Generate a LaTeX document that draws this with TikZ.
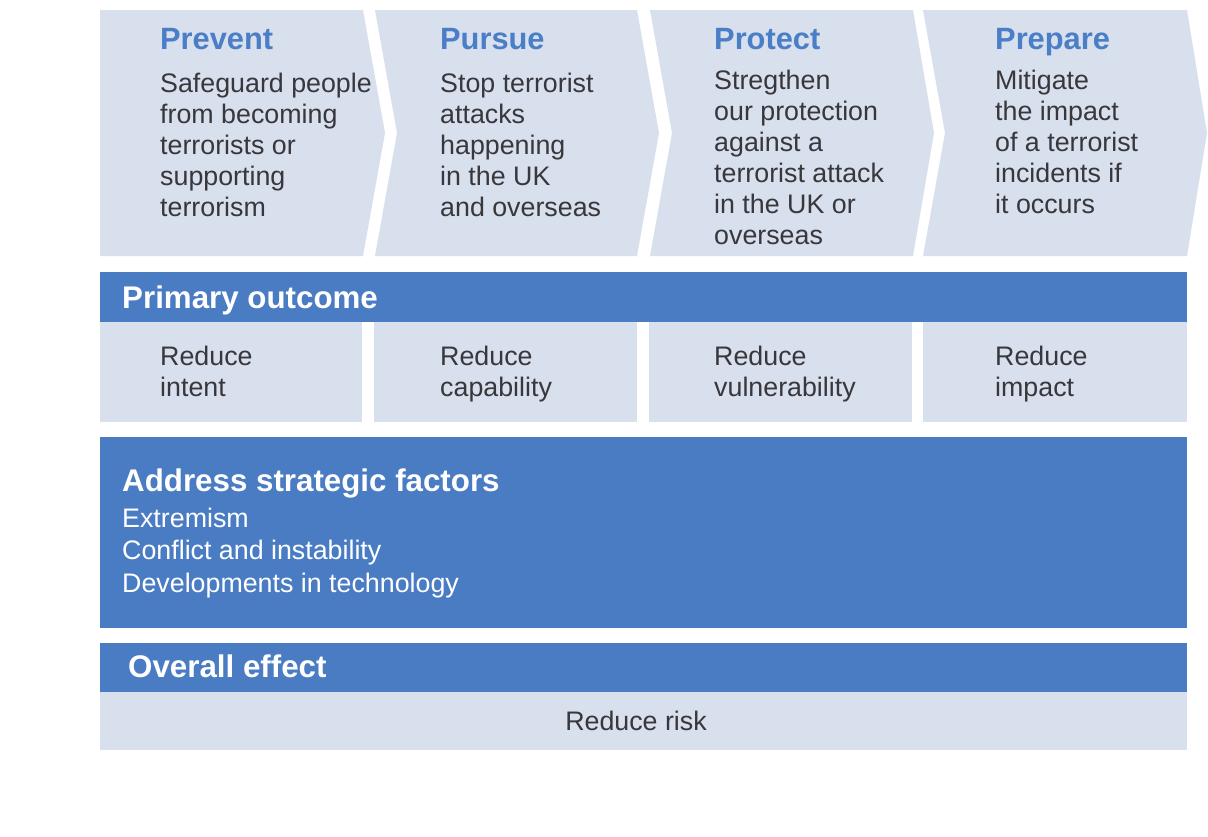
\documentclass[tikz,border=0pt]{standalone}
\usepackage{fontspec}
\setmainfont{Liberation Sans}
\definecolor{lightbg}{RGB}{216,223,237}
\definecolor{darkblue}{RGB}{74,124,195}
\definecolor{titleblue}{RGB}{74,126,198}
\definecolor{bodytext}{RGB}{55,55,60}
\tikzset{
  panel/.style={fill=lightbg, draw=none},
  bar/.style={fill=darkblue, draw=none},
  ttl/.style={anchor=base west, inner sep=0pt, text=titleblue, font=\fontsize{30.8}{31}\selectfont\bfseries},
  body/.style={anchor=base west, inner sep=0pt, text=bodytext, align=left, font=\fontsize{26.8}{31}\selectfont},
  bartitle/.style={anchor=base west, inner sep=0pt, text=white, font=\fontsize{31.3}{31}\selectfont\bfseries},
  barbody/.style={anchor=base west, inner sep=0pt, text=white, align=left, font=\fontsize{26.8}{32.5}\selectfont},
}
\begin{document}
\begin{tikzpicture}[x=1pt,y=-1pt]
\useasboundingbox (0,0) rectangle (1208,836);
\fill[white] (0,0) rectangle (1208,836);
% chevrons
\fill[panel] (100,10) -- (363,10) -- (385,133) -- (363,256) -- (100,256) -- cycle;
\fill[panel] (375,10) -- (637,10) -- (659,133) -- (637,256) -- (375,256) -- (397,133) -- cycle;
\fill[panel] (650,10) -- (913,10) -- (934,133) -- (913,256) -- (650,256) -- (672,133) -- cycle;
\fill[panel] (923,10) -- (1187,10) -- (1207,133) -- (1187,256) -- (923,256) -- (945,133) -- cycle;
% titles (multi-line nodes are placed by the baseline of their last line)
\node[ttl] (t1) at (160,49) {Prevent};
\node[ttl] (t2) at (440,49) {Pursue};
\node[ttl] (t3) at (714,49) {Protect};
\node[ttl] (t4) at (995,49) {Prepare};
\node[body] (b1) at (160,216) {Safeguard people\\from becoming\\terrorists or\\supporting\\terrorism};
\node[body] (b2) at (440,216) {Stop terrorist\\attacks\\happening\\in the UK\\and overseas};
\node[body] (b3) at (714,244) {Stregthen\\our protection\\against a\\terrorist attack\\in the UK or\\overseas};
\node[body] (b4) at (995,213) {Mitigate\\the impact\\of a terrorist\\incidents if\\it occurs};
% primary outcome
\fill[bar] (100,272) rectangle (1187,322);
\node[bartitle] (po) at (122,308) {Primary outcome};
\fill[panel] (100,322) rectangle (362,422);
\fill[panel] (374,322) rectangle (637,422);
\fill[panel] (649,322) rectangle (912,422);
\fill[panel] (923,322) rectangle (1187,422);
\node[body] (r1) at (160,396) {Reduce\\intent};
\node[body] (r2) at (440,396) {Reduce\\capability};
\node[body] (r3) at (714,396) {Reduce\\vulnerability};
\node[body] (r4) at (995,396) {Reduce\\impact};
% strategic factors
\fill[bar] (100,437) rectangle (1187,628);
\node[bartitle] (sf) at (122,491) {Address strategic factors};
\node[barbody] (sfl) at (122,592) {Extremism\\Conflict and instability\\Developments in technology};
% overall effect
\fill[bar] (100,643) rectangle (1187,692);
\node[bartitle] (oe) at (128,677) {Overall effect};
\fill[panel] (100,692) rectangle (1187,750);
\node[body, anchor=base] (rr) at (636,730) {Reduce risk};
\end{tikzpicture}
\end{document}
